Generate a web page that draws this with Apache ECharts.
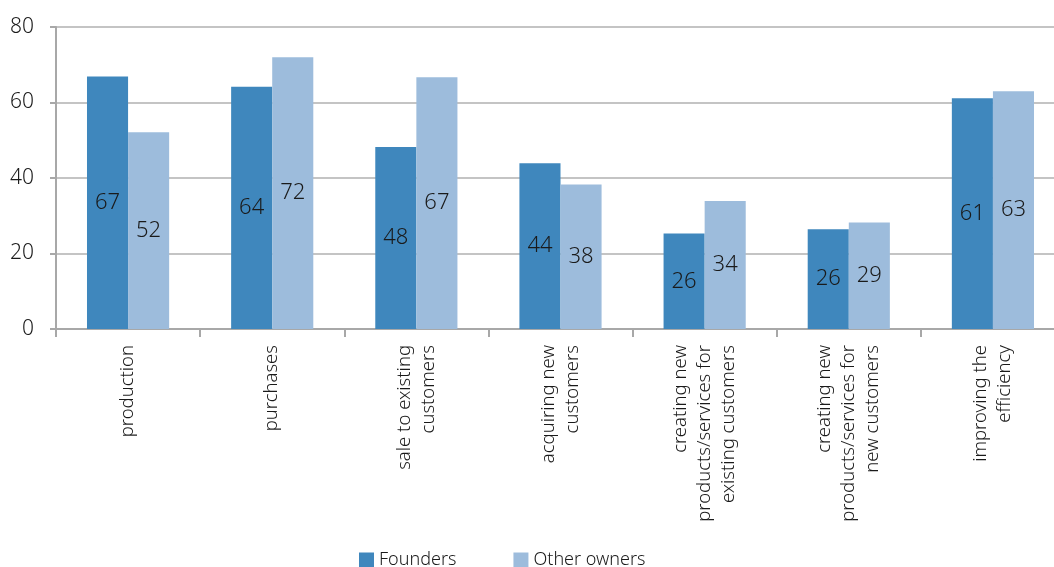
<!DOCTYPE html>
<html>
<head>
<meta charset="utf-8">
<script src="https://cdn.jsdelivr.net/npm/echarts@6/dist/echarts.min.js"></script>
<style>html,body{margin:0;padding:0;background:#fff;}#c{width:1054px;height:567px;}</style>
</head>
<body>
<div id="c"></div>
<script>
var categories = [
  "production",
  "purchases",
  "sale to existing\ncustomers",
  "acquiring new\ncustomers",
  "creating new\nproducts/services for\nexisting customers",
  "creating new\nproducts/services for\nnew customers",
  "improving the\nefficiency"
];
var founders = [66.9, 64.2, 48.2, 43.9, 25.3, 26.4, 61.1];
var otherOwners = [52.1, 72.0, 66.7, 38.3, 33.9, 28.2, 63.0];
var foundersLabels = [67, 64, 48, 44, 26, 26, 61];
var otherLabels = [52, 72, 67, 38, 34, 29, 63];
var yTicks = [0, 20, 40, 60, 80];

var FONT = "Noto Sans";
var chart = echarts.init(document.getElementById('c'));
function mkLabel(arr) {
  return {
    show: true, position: 'inside', color: '#1a1a1a', fontFamily: FONT, fontSize: 22, fontWeight: 300,
    formatter: function (p) { return String(arr[p.dataIndex]); }
  };
}
chart.setOption({
  animation: false,
  backgroundColor: '#ffffff',
  grid: { left: 56, width: 1009, top: 27, height: 302, containLabel: false, outerBoundsMode: 'none' },
  legend: {
    left: 354, top: 546, itemWidth: 15, itemHeight: 15, itemGap: 57,
    icon: 'rect',
    textStyle: { fontFamily: FONT, fontSize: 18, fontWeight: 300, color: '#1a1a1a', padding: [0, 0, 0, 0] },
    data: ['Founders', 'Other owners']
  },
  xAxis: {
    type: 'category', data: categories,
    axisLine: { lineStyle: { color: '#a8a8a8', width: 2 } },
    axisTick: { show: true, length: 8, lineStyle: { color: '#a8a8a8', width: 2 } },
    axisLabel: {
      rotate: 90, interval: 0, margin: 16, fontFamily: FONT, fontSize: 18.5, fontWeight: 300,
      lineHeight: 24, color: '#1a1a1a', align: 'right'
    }
  },
  yAxis: {
    type: 'value', min: yTicks[0], max: yTicks[yTicks.length - 1], interval: 20,
    axisLine: { show: true, lineStyle: { color: '#a8a8a8', width: 2 } },
    axisTick: { show: true, length: 6, lineStyle: { color: '#a8a8a8', width: 2 } },
    splitLine: { show: true, lineStyle: { color: '#b0b0b0', width: 1.5 } },
    axisLabel: { margin: 22, fontFamily: FONT, fontSize: 21, fontWeight: 300, color: '#1a1a1a' }
  },
  series: [
    {
      name: 'Founders', type: 'bar', data: founders,
      barGap: '0%', barCategoryGap: '43%',
      itemStyle: { color: '#3f87bd' },
      label: mkLabel(foundersLabels)
    },
    {
      name: 'Other owners', type: 'bar', data: otherOwners,
      barGap: '0%', barCategoryGap: '43%',
      itemStyle: { color: '#9dbcdc' },
      label: mkLabel(otherLabels)
    }
  ]
});
</script>
</body>
</html>
